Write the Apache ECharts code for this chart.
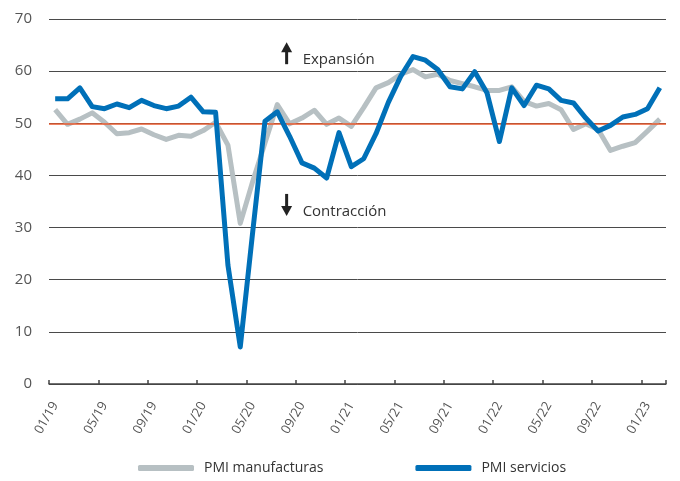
<!DOCTYPE html>
<html>
<head>
<meta charset="utf-8">
<script src="https://cdn.jsdelivr.net/npm/echarts@6/dist/echarts.min.js"></script>
<style>
html,body{margin:0;padding:0;background:#fff;}
#chart{width:680px;height:481px;}
</style>
</head>
<body>
<div id="chart"></div>
<script>
const categories = [
  '01/19','02/19','03/19','04/19','05/19','06/19','07/19','08/19','09/19','10/19','11/19','12/19',
  '01/20','02/20','03/20','04/20','05/20','06/20','07/20','08/20','09/20','10/20','11/20','12/20',
  '01/21','02/21','03/21','04/21','05/21','06/21','07/21','08/21','09/21','10/21','11/21','12/21',
  '01/22','02/22','03/22','04/22','05/22','06/22','07/22','08/22','09/22','10/22','11/22','12/22',
  '01/23','02/23'
];
const pmiManufacturas = [
  52.6, 49.8, 50.8, 52.0, 50.2, 48.0, 48.2, 48.9, 47.8, 46.9, 47.7, 47.5,
  48.6, 50.2, 45.8, 30.8, 38.8, 46.2, 53.6, 49.9, 51.0, 52.5, 49.8, 51.0,
  49.4, 53.0, 56.8, 57.8, 59.4, 60.3, 58.9, 59.4, 58.2, 57.6, 57.0, 56.3,
  56.3, 57.0, 54.2, 53.3, 53.8, 52.6, 48.8, 49.9, 48.8, 44.8, 45.6, 46.3,
  48.5, 50.8
];
const pmiServicios = [
  54.7, 54.7, 56.8, 53.2, 52.8, 53.7, 53.0, 54.4, 53.4, 52.8, 53.3, 55.0,
  52.2, 52.1, 22.8, 7.1, 29.0, 50.4, 52.2, 47.5, 42.4, 41.4, 39.5, 48.2,
  41.7, 43.2, 48.0, 54.0, 59.0, 62.8, 62.1, 60.3, 57.0, 56.6, 59.9, 55.8,
  46.5, 56.8, 53.4, 57.3, 56.6, 54.4, 53.9, 51.0, 48.5, 49.6, 51.2, 51.7,
  52.8, 56.8
];
const yTicks = [0, 10, 20, 30, 40, 50, 60, 70];
const threshold = 50;
const seriesNames = ['PMI manufacturas', 'PMI servicios'];
const annotations = [
  {text: 'Expansión', cat: '08/20', value: 62.1, dir: 'up'},
  {text: 'Contracción', cat: '08/20', value: 33.0, dir: 'down'}
];

const FONT = 'Open Sans';
const chart = echarts.init(document.getElementById('chart'), null, {renderer: 'canvas'});
const option = {
  animation: false,
  backgroundColor: '#ffffff',
  grid: {left: 49, right: 14, top: 19, bottom: 97, containLabel: false},
  legend: {
    top: 456,
    left: 133,
    itemGap: 92,
    itemWidth: 56,
    itemHeight: 6,
    icon: 'roundRect',
    textStyle: {fontFamily: FONT, fontSize: 14, color: '#333', padding: [0, 0, 0, 5]},
    data: seriesNames
  },
  xAxis: {
    type: 'category',
    data: categories,
    boundaryGap: true,
    axisLine: {lineStyle: {color: '#444', width: 1.5}},
    axisTick: {show: true, inside: true, interval: 3, length: 4, lineStyle: {color: '#444', width: 1.5}},
    axisLabel: {interval: 3, rotate: 60, fontFamily: FONT, fontSize: 13, color: '#555', margin: 19}
  },
  yAxis: {
    type: 'value',
    min: yTicks[0],
    max: yTicks[yTicks.length - 1],
    interval: 10,
    axisLine: {show: false},
    axisTick: {show: false},
    axisLabel: {fontFamily: FONT, fontSize: 15, color: '#555', margin: 17},
    splitLine: {lineStyle: {color: '#4a4a4a', width: 1}}
  },
  series: [
    {
      name: seriesNames[0],
      type: 'line',
      data: pmiManufacturas,
      symbol: 'none',
      z: 2,
      lineStyle: {color: '#b7c0c3', width: 5, join: 'round'},
      itemStyle: {color: '#b7c0c3'},
      markLine: {
        silent: true,
        symbol: 'none',
        label: {show: false},
        lineStyle: {color: '#ea5a2e', width: 1.5, type: 'solid'},
        data: [{yAxis: threshold}],
        z: 3
      }
    },
    {
      name: seriesNames[1],
      type: 'line',
      data: pmiServicios,
      symbol: 'none',
      z: 4,
      lineStyle: {color: '#0070b8', width: 5, join: 'round'},
      itemStyle: {color: '#0070b8'}
    }
  ]
};
chart.setOption(option);

// annotations anchored through the chart's own scales
const g = [];
annotations.forEach(a => {
  const p = chart.convertToPixel({gridIndex: 0}, [a.cat, a.value]);
  const ax = p[0] - 3, ay = p[1];
  if (a.dir === 'up') {
    g.push({type: 'polygon', shape: {points: [[ax, ay - 18], [ax - 5.5, ay - 8], [ax + 5.5, ay - 8]]}, style: {fill: '#222'}});
    g.push({type: 'rect', shape: {x: ax - 1.5, y: ay - 9, width: 3, height: 13}, style: {fill: '#222'}});
  } else {
    g.push({type: 'polygon', shape: {points: [[ax, ay + 4], [ax - 5.5, ay - 6], [ax + 5.5, ay - 6]]}, style: {fill: '#222'}});
    g.push({type: 'rect', shape: {x: ax - 1.5, y: ay - 18, width: 3, height: 13}, style: {fill: '#222'}});
  }
  g.push({type: 'text', x: ax + 16, y: ay, style: {text: a.text, font: '15px "' + FONT + '"', fill: '#333', verticalAlign: 'middle'}});
});
chart.setOption({graphic: g});
</script>
</body>
</html>
